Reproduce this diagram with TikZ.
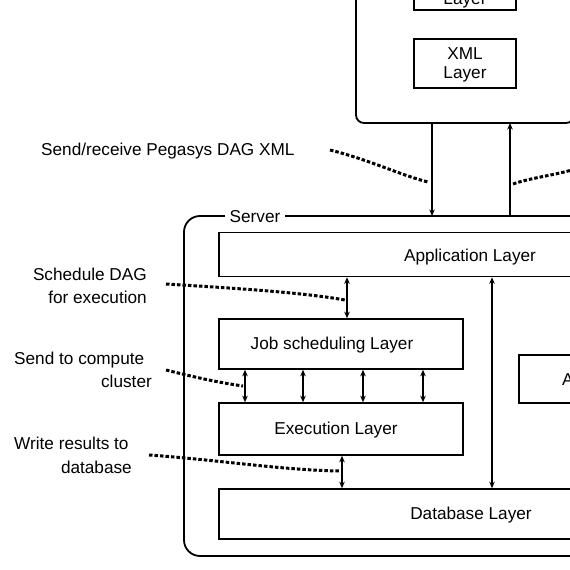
\documentclass[tikz,border=0pt]{standalone}
\usepackage{fontspec}
\setmainfont{Liberation Sans}
\usetikzlibrary{arrows.meta}
\begin{document}
\begin{tikzpicture}[x=1pt,y=-1pt,
  box/.style={draw,line width=1.6pt,inner sep=0pt,align=center},
  lbl/.style={inner sep=0pt,align=center},
  frame/.style={draw,line width=1.8pt},
  dbl/.style={line width=1.3pt,{Stealth[length=6.5pt,width=5.5pt]}-{Stealth[length=6.5pt,width=5.5pt]}},
  sgl/.style={line width=1.3pt,-{Stealth[length=6.5pt,width=5.5pt]}},
  dots/.style={line width=3pt,dash pattern=on 3.5pt off 2pt}]
\useasboundingbox (0,0) rectangle (570,570);
\clip (0,0) rectangle (570,570);
\fontsize{17.2}{20.5}\selectfont
% top client box
\draw[frame,rounded corners=8pt] (356,-60) rectangle (574,123);
\coordinate (clientbot) at (465,123);
\node[box,minimum width=102,minimum height=50] (toplayer) at (465,-15) {};
\node[lbl] (toplbl) at (465,0) {Layer};
\node[box,minimum width=102,minimum height=49] (xml) at (465,63.5) {};
\node[lbl] (xmllbl) at (465,65) {XML\\[-1pt]Layer};
% server frame
\draw[frame,rounded corners=16pt] (240,216) -- (184,216) -- (184,556) -- (600,556);
\draw[frame] (230,216) -- (600,216);
\node[lbl,fill=white,inner xsep=5pt,inner ysep=2pt] (server) at (255,217) {Server};
\coordinate (servertop) at (465,216);
% layers
\node[box,minimum width=502,minimum height=44] (app) at (470,254.5) {};
\node[lbl] (applbl) at (470,257) {Application Layer};
\node[box,minimum width=244,minimum height=50] (job) at (341,344) {};
\node[lbl] (joblbl) at (332,345.5) {Job scheduling Layer};
\node[box,minimum width=244,minimum height=52] (exec) at (341,429) {};
\node[lbl] (execlbl) at (336,430) {Execution Layer};
\node[box,minimum width=504,minimum height=50] (db) at (471,514) {};
\node[lbl] (dblbl) at (471,515.5) {Database Layer};
\node[box,minimum width=120,minimum height=48] (adm) at (579,379) {};
\node[lbl,anchor=west] (admlbl) at (562,380) {A};
% x positions
\coordinate (xa) at (432,0);
\coordinate (xb) at (510,0);
\coordinate (xc) at (347,0);
\coordinate (xd) at (492,0);
\coordinate (x1) at (245,0);
\coordinate (x2) at (303,0);
\coordinate (x3) at (363,0);
\coordinate (x4) at (423,0);
\coordinate (xe) at (342,0);
% arrows
\draw[sgl] (clientbot -| xa) -- (servertop -| xa);
\draw[sgl] (servertop -| xb) -- (clientbot -| xb);
\draw[dbl] (app.south -| xc) -- (job.north -| xc);
\draw[dbl] (app.south -| xd) -- (db.north -| xd);
\draw[dbl] (job.south -| x1) -- (exec.north -| x1);
\draw[dbl] (job.south -| x2) -- (exec.north -| x2);
\draw[dbl] (job.south -| x3) -- (exec.north -| x3);
\draw[dbl] (job.south -| x4) -- (exec.north -| x4);
\draw[dbl] (exec.south -| xe) -- (db.north -| xe);
% labels
\node[lbl,anchor=west] (t1) at (41,151) {Send/receive Pegasys DAG XML};
\node[lbl,anchor=east] (t2a) at (147,274) {Schedule DAG};
\node[lbl,anchor=east] (t2b) at (147,297) {for execution};
\node[lbl,anchor=west] (t3a) at (14,360) {Send to compute};
\node[lbl,anchor=east] (t3b) at (152,381) {cluster};
\node[lbl,anchor=west] (t4a) at (14,443) {Write results to};
\node[lbl,anchor=east] (t4b) at (132,467) {database};
% dotted pointers
\coordinate (d1s) at (330,150); \coordinate (d1e) at (428,182);
\draw[dots] (d1s) .. controls (370,160) and (400,175) .. (d1e);
\coordinate (d2s) at (513,184); \coordinate (d2e) at (572,170);
\draw[dots] (d2s) .. controls (530,178) and (550,176) .. (d2e);
\coordinate (d3s) at (166,284); \coordinate (d3e) at (345,300);
\draw[dots] (d3s) .. controls (230,288) and (300,292) .. (d3e);
\coordinate (d4s) at (166,370); \coordinate (d4e) at (243,386);
\draw[dots] (d4s) .. controls (190,376) and (215,382) .. (d4e);
\coordinate (d5s) at (149,455); \coordinate (d5e) at (340,471);
\draw[dots] (d5s) .. controls (220,460) and (280,470) .. (d5e);
\end{tikzpicture}
\end{document}
